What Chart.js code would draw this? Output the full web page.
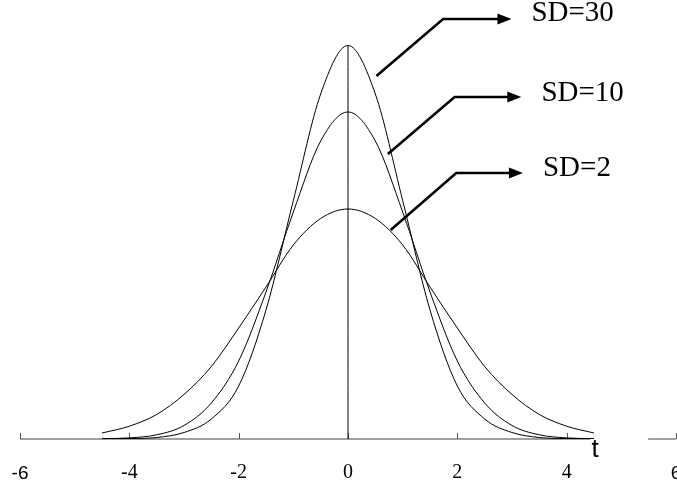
<!DOCTYPE html>
<html>
<head>
<meta charset="utf-8">
<script src="https://cdn.jsdelivr.net/npm/chart.js@4.4.0/dist/chart.umd.min.js"></script>
<style>
  html, body { margin: 0; padding: 0; background: #fff; }
  #wrap { width: 677px; height: 491px; }
</style>
</head>
<body>
<div id="wrap"><canvas id="chart-t"></canvas></div>
<script>
// ===== t-dağılımı eğrileri =====
const tValues = [-4.5, -4, -3.5, -3, -2.5, -2, -1.5, -1, -0.5, 0, 0.5, 1, 1.5, 2, 2.5, 3, 3.5, 4, 4.5];
const sd2  = [0.006, 0.0128, 0.0245, 0.0445, 0.0725, 0.111, 0.152, 0.194, 0.2205, 0.230, 0.2205, 0.194, 0.152, 0.111, 0.0725, 0.0445, 0.0245, 0.0128, 0.006];
const sd10 = [0.0003, 0.0011, 0.0042, 0.0135, 0.036, 0.078, 0.147, 0.227, 0.298, 0.327, 0.298, 0.227, 0.147, 0.078, 0.036, 0.0135, 0.0042, 0.0011, 0.0003];
const sd30 = [0.0001, 0.0004, 0.0015, 0.0065, 0.020, 0.053, 0.129, 0.2385, 0.345, 0.3935, 0.345, 0.2385, 0.129, 0.053, 0.020, 0.0065, 0.0015, 0.0004, 0.0001];
const centerLine = [0, 0.3935];
const xRange = [-6, 6];
const seriesLabels = ['SD=30', 'SD=10', 'SD=2'];

// oklar: başlangıç, kırılma, uç (t, yoğunluk)
const arrowPaths = [
  [[0.52, 0.363], [1.74, 0.420], [2.99, 0.420]],
  [[0.73, 0.285], [1.95, 0.342], [3.17, 0.342]],
  [[0.78, 0.209], [1.98, 0.266], [3.20, 0.266]]
];
const labelAnchors = [[3.355, 0.4253], [3.538, 0.3457], [3.567, 0.2702]];
const axisGap = [4.43, 5.49];
const axisTitle = { text: 't', at: [4.452, -0.018] };

const SERIF = "'Liberation Serif', 'Times New Roman', serif";
const SANS = "'Liberation Sans', Arial, sans-serif";
Chart.defaults.font.family = SERIF;
Chart.defaults.font.size = 20;

const pts = arr => tValues.map((t, i) => ({ x: t, y: arr[i] }));

const overlay = {
  id: 'overlay',
  beforeDatasetsDraw(chart) {
    const { ctx, scales: { x, y } } = chart;
    const y0 = y.getPixelForValue(0);
    ctx.save();
    // eksen çizgisi, "t" için boşluklu
    ctx.strokeStyle = '#808080';
    ctx.lineWidth = 1.6;
    ctx.beginPath();
    ctx.moveTo(x.getPixelForValue(xRange[0]), y0);
    ctx.lineTo(x.getPixelForValue(axisGap[0]), y0);
    ctx.moveTo(x.getPixelForValue(axisGap[1]), y0);
    ctx.lineTo(x.getPixelForValue(xRange[1]), y0);
    ctx.stroke();
    // yukarı bakan tik işaretleri
    ctx.strokeStyle = '#555';
    ctx.lineWidth = 1;
    x.ticks.forEach(tk => {
      const px = Math.round(x.getPixelForValue(tk.value)) + 0.5;
      ctx.beginPath();
      ctx.moveTo(px, y0);
      ctx.lineTo(px, y0 - 6);
      ctx.stroke();
    });
    ctx.restore();
  },
  afterDatasetsDraw(chart) {
    const { ctx, scales: { x, y } } = chart;
    const P = ([a, b]) => [x.getPixelForValue(a), y.getPixelForValue(b)];
    ctx.save();
    ctx.strokeStyle = '#000';
    ctx.fillStyle = '#000';
    ctx.lineWidth = 2.6;
    ctx.lineJoin = 'miter';
    arrowPaths.forEach(path => {
      const [s, b, e] = path.map(P);
      ctx.beginPath();
      ctx.moveTo(s[0], s[1]);
      ctx.lineTo(b[0], b[1]);
      ctx.lineTo(e[0] - 10, e[1]);
      ctx.stroke();
      ctx.beginPath();
      ctx.moveTo(e[0], e[1]);
      ctx.lineTo(e[0] - 14, e[1] - 5.5);
      ctx.lineTo(e[0] - 14, e[1] + 5.5);
      ctx.closePath();
      ctx.fill();
    });
    ctx.font = '29px ' + SERIF;
    ctx.textAlign = 'left';
    ctx.textBaseline = 'middle';
    seriesLabels.forEach((lbl, i) => {
      const [lx, ly] = P(labelAnchors[i]);
      ctx.fillText(lbl, lx, ly);
    });
    ctx.font = '26px ' + SANS;
    ctx.textBaseline = 'alphabetic';
    const [tx, ty] = P(axisTitle.at);
    ctx.fillText(axisTitle.text, tx, ty);
    ctx.restore();
  }
};

const line = (data) => ({
  data, borderColor: '#000', borderWidth: 1, pointRadius: 0,
  cubicInterpolationMode: 'monotone', fill: false
});

// uçtaki -6 ve 6 etiketleri farklı (sans) yazı tipinde
const tickFont = c => (c && c.tick && Math.abs(c.tick.value) === 6)
  ? { family: SANS, size: 19, lineHeight: 22 / 19 }
  : { family: SERIF, size: 20, lineHeight: 1 };

new Chart(document.getElementById('chart-t'), {
  type: 'line',
  data: {
    datasets: [
      line(pts(sd30)),
      line(pts(sd10)),
      line(pts(sd2)),
      line(centerLine.map(v => ({ x: 0, y: v })))
    ]
  },
  options: {
    responsive: true, maintainAspectRatio: false, animation: false,
    layout: { padding: { left: 20, right: 1, top: 9, bottom: 6 } },
    plugins: { legend: { display: false }, tooltip: { enabled: false } },
    scales: {
      x: {
        type: 'linear', min: xRange[0], max: xRange[1],
        border: { display: false },
        grid: { drawOnChartArea: false, drawTicks: true, tickLength: 24, color: 'rgba(0,0,0,0)' },
        ticks: {
          stepSize: 2, autoSkip: false, maxRotation: 0, padding: 0, color: '#000',
          font: tickFont
        },
        afterFit: s => { s.paddingLeft = 0; s.paddingRight = 0; }
      },
      y: { display: false, min: 0, max: 0.43 }
    }
  },
  plugins: [overlay]
});
</script>
</body>
</html>
